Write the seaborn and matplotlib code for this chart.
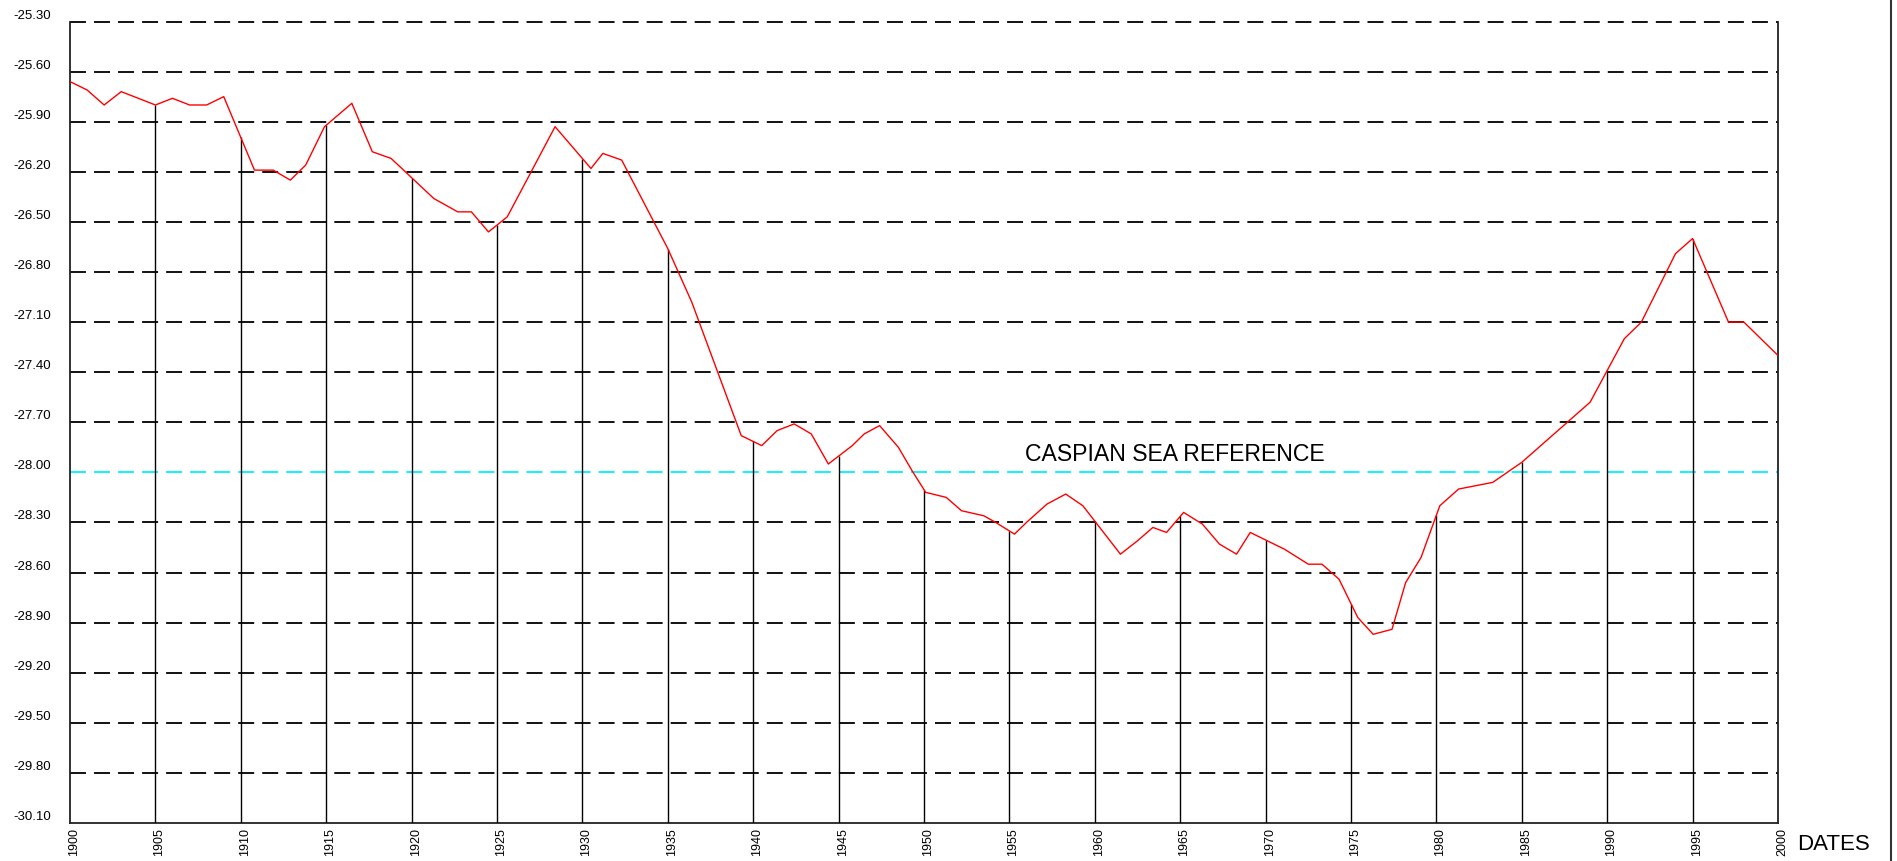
import numpy as np
import pandas as pd
import matplotlib
matplotlib.use("Agg")
import matplotlib.pyplot as plt
import matplotlib.transforms as mtransforms
from matplotlib.lines import Line2D
import seaborn as sns

# ---------------- data ----------------
years = [1900.0, 1901.0, 1902.0, 1903.0, 1905.0, 1906.0, 1907.0, 1908.0, 1909.0,
         1910.8, 1911.9, 1912.9, 1913.8, 1914.9, 1916.5, 1917.7, 1918.8,
         1921.3, 1922.7, 1923.5, 1924.5, 1925.6, 1928.4, 1930.5, 1931.2, 1932.3,
         1935.0, 1936.4, 1939.3, 1940.5, 1941.4, 1942.4, 1943.4, 1944.4,
         1945.8, 1946.5, 1947.4, 1948.5, 1949.3, 1950.1, 1951.3, 1952.2, 1953.5,
         1954.2, 1955.3, 1956.0, 1957.2, 1958.3, 1959.3, 1961.5, 1962.5, 1963.4,
         1964.2, 1965.2, 1966.3, 1967.3, 1968.3, 1969.1, 1971.1, 1972.5, 1973.3,
         1974.3, 1975.4, 1976.3, 1977.4, 1978.2, 1979.1, 1980.2, 1981.3, 1983.3,
         1985.0, 1989.0, 1990.0, 1991.0, 1992.0, 1994.0, 1995.0, 1997.1, 1998.0,
         2000.0]
levels = [-25.66, -25.71, -25.80, -25.72, -25.80, -25.76, -25.80, -25.80, -25.75,
          -26.19, -26.19, -26.25, -26.16, -25.93, -25.79, -26.08, -26.12,
          -26.36, -26.44, -26.44, -26.56, -26.47, -25.93, -26.18, -26.09, -26.13,
          -26.66, -26.98, -27.78, -27.84, -27.75, -27.71, -27.77, -27.95,
          -27.84, -27.77, -27.72, -27.85, -27.99, -28.12, -28.15, -28.23, -28.26,
          -28.30, -28.37, -28.30, -28.19, -28.13, -28.20, -28.49, -28.41, -28.33,
          -28.36, -28.24, -28.31, -28.43, -28.49, -28.36, -28.46, -28.55, -28.55,
          -28.64, -28.87, -28.97, -28.94, -28.66, -28.51, -28.20, -28.10, -28.06,
          -27.94, -27.58, -27.39, -27.20, -27.10, -26.69, -26.60, -27.10, -27.10,
          -27.30]

x_ticks = [1900, 1905, 1910, 1915, 1920, 1925, 1930, 1935, 1940, 1945, 1950,
           1955, 1960, 1965, 1970, 1975, 1980, 1985, 1990, 1995, 2000]
y_ticks = [-25.30, -25.60, -25.90, -26.20, -26.50, -26.80, -27.10, -27.40,
           -27.70, -28.00, -28.30, -28.60, -28.90, -29.20, -29.50, -29.80, -30.10]
y_tick_labels = ["-25.30", "-25.60", "-25.90", "-26.20", "-26.50", "-26.80",
                 "-27.10", "-27.40", "-27.70", "-28.00", "-28.30", "-28.60",
                 "-28.90", "-29.20", "-29.50", "-29.80", "-30.10"]
reference_level = -28.00
reference_label = "CASPIAN SEA REFERENCE"
x_axis_label = "DATES"

# ---------------- style ----------------
sns.set_theme(style="white")
plt.rcParams["font.family"] = ["Liberation Sans", "DejaVu Sans"]

W, H = 1897, 861
fig = plt.figure(figsize=(W / 100, H / 100), dpi=100)
fig.patch.set_facecolor("white")
x0, x1, yb, yt = 70, 1778, 823, 21.5
ax = fig.add_axes([x0 / W, 1 - yb / H, (x1 - x0) / W, (yb - yt) / H])
ax.set_facecolor("white")

ymin, ymax = y_ticks[-1], y_ticks[0]
ax.set_xlim(x_ticks[0], x_ticks[-1])
ax.set_ylim(ymin, ymax)

# dashed horizontal grid
grid_lw = 1.4
dash = (0, (11.5 / grid_lw, 5.8 / grid_lw))
for v in y_ticks[:-1]:
    if abs(v - reference_level) < 1e-9:
        ax.axhline(v, color="#00F0FF", lw=1.3, ls=(0, (11.5 / 1.3, 5.8 / 1.3)),
                   zorder=2, clip_on=False)
    else:
        ax.axhline(v, color="#111111", lw=grid_lw, ls=dash, zorder=2, clip_on=False)

# drop lines from bottom to the curve at each 5-year tick
inner = x_ticks[1:-1]
tops = np.interp(inner, years, levels)
ax.vlines(inner, ymin, tops, color="black", lw=1.0, zorder=3)

# the level curve
df = pd.DataFrame({"year": years, "level": levels})
sns.lineplot(data=df, x="year", y="level", ax=ax, color="red", lw=1.0,
             sort=False, zorder=5)
ax.set_xlabel("")
ax.set_ylabel("")

# spines
ax.spines["top"].set_visible(False)
for s in ("left", "right", "bottom"):
    ax.spines[s].set_color("#222222")
    ax.spines[s].set_linewidth(1.3)

# ticks
ax.set_yticks(y_ticks)
ax.set_yticklabels(y_tick_labels, fontsize=9.5, color="black")
for lbl in ax.get_yticklabels():
    lbl.set_horizontalalignment("left")
    lbl.set_verticalalignment("bottom")
ax.tick_params(axis="y", length=0, pad=(x0 - 13) * 0.72)

ax.set_xticks(x_ticks)
ax.set_xticklabels([str(t) for t in x_ticks], rotation=90, fontsize=9, color="black")
ax.tick_params(axis="x", length=0, pad=3.5)
offset = mtransforms.ScaledTranslation(4 / 100, 0, fig.dpi_scale_trans)
for lbl in ax.get_xticklabels():
    lbl.set_transform(lbl.get_transform() + offset)

# annotations
ax.text(1964.7, -27.93, reference_label, ha="center", va="baseline",
        fontsize=16.6, color="black", zorder=6)
fig.text(1797 / W, 1 - 850 / H, x_axis_label, ha="left", va="baseline",
         fontsize=16, color="black")

# right border line of the figure
fig.add_artist(Line2D([1891 / W, 1891 / W], [0, 1], transform=fig.transFigure,
                      color="#333333", lw=1.5))

fig.savefig("out.png", dpi=100, facecolor="white")
